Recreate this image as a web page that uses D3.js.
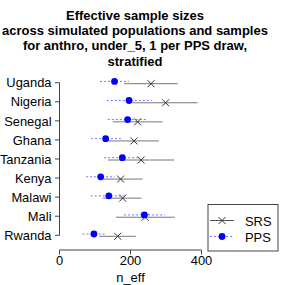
<!DOCTYPE html>
<html>
<head>
  <meta charset="UTF-8">
  <style>
    body { margin: 0; background: #fff; }
    svg { display: block; font-family: "Liberation Sans", Arial, sans-serif; }
  </style>
</head>
<body>
  <script src="https://d3js.org/d3.v7.min.js"></script>
  <script>
    // values
    var countries = ["Uganda", "Nigeria", "Senegal", "Ghana", "Tanzania", "Kenya", "Malawi", "Mali", "Rwanda"];
    var srsMean = [258, 299, 220, 210, 230, 172, 178, 241, 164];
    var srsLo   = [182, 205, 150, 137, 136, 123, 123, 159, 112];
    var srsHi   = [333, 389, 290, 280, 323, 234, 231, 325, 215];
    var ppsMean = [155, 196, 192, 130, 177, 116, 139, 239, 97];
    var ppsLo   = [114, 133, 136, 89, 126, 75, 88, 182, 65];
    var ppsHi   = [196, 260, 248, 173, 227, 156, 189, 297, 128];
    var xTicks = [0, 200, 400];
    var titleLines = ["Effective sample sizes",
      "across simulated populations and samples",
      "for anthro, under_5, 1 per PPS draw,",
      "stratified"];

    var W = 285, H = 285;
    var fs = "12.9px";
    var svg = d3.select("body").append("svg").attr("width", W).attr("height", H);

    var x = d3.scaleLinear().domain([0, 400]).range([59.5, 201.5]);
    var y = d3.scalePoint().domain(countries).range([82.7, 235.3]);

    // title
    svg.append("g").selectAll("text").data(titleLines).enter().append("text")
      .attr("x", 135).attr("y", function(d, i) { return 19.8 + i * 15.3; })
      .attr("text-anchor", "middle")
      .style("font-weight", "bold").style("font-size", "13px")
      .text(function(d) { return d; });

    // y axis (R style)
    var ya = svg.append("g");
    ya.append("line").attr("x1", 59.5).attr("x2", 59.5)
      .attr("y1", y(countries[0])).attr("y2", y(countries[countries.length - 1]))
      .attr("stroke", "#444");
    countries.forEach(function(c) {
      ya.append("line").attr("x1", 55).attr("x2", 59.5)
        .attr("y1", y(c)).attr("y2", y(c)).attr("stroke", "#444");
      ya.append("text").attr("x", 51.5).attr("y", y(c) + 4.7)
        .attr("text-anchor", "end").style("font-size", fs).text(c);
    });

    // x axis
    var xa = svg.append("g");
    xa.append("line").attr("x1", x(0)).attr("x2", x(400)).attr("y1", 250).attr("y2", 250).attr("stroke", "#444");
    xTicks.forEach(function(t) {
      xa.append("line").attr("x1", x(t)).attr("x2", x(t)).attr("y1", 250).attr("y2", 254.5).attr("stroke", "#444");
      xa.append("text").attr("x", x(t)).attr("y", 264.5).attr("text-anchor", "middle")
        .style("font-size", fs).text(t);
    });
    svg.append("text").attr("x", (x(0) + x(400)) / 2).attr("y", 281.5)
      .attr("text-anchor", "middle").style("font-size", fs).text("n_eff");

    // SRS intervals
    var srs = svg.append("g");
    countries.forEach(function(c, i) {
      var yy = y(c) + 1;
      srs.append("line").attr("x1", x(srsLo[i])).attr("x2", x(srsHi[i]))
        .attr("y1", yy).attr("y2", yy).attr("stroke", "#777").attr("stroke-width", 1);
    });
    // PPS intervals
    var pps = svg.append("g");
    countries.forEach(function(c, i) {
      var yy = y(c) - 1.3;
      pps.append("line").attr("x1", x(ppsLo[i])).attr("x2", x(ppsHi[i]))
        .attr("y1", yy).attr("y2", yy).attr("stroke", "rgba(60,60,255,0.7)")
        .attr("stroke-width", 1).attr("stroke-dasharray", "2,2");
    });
    // SRS crosses
    countries.forEach(function(c, i) {
      var cx = x(srsMean[i]), cy = y(c) + 1, s = 3.5;
      srs.append("path")
        .attr("d", "M" + (cx - s) + "," + (cy - s) + "L" + (cx + s) + "," + (cy + s) +
          "M" + (cx - s) + "," + (cy + s) + "L" + (cx + s) + "," + (cy - s))
        .attr("stroke", "#333").attr("stroke-width", 1).attr("fill", "none");
    });
    // PPS points
    pps.selectAll("circle").data(countries).enter().append("circle")
      .attr("cx", function(d, i) { return x(ppsMean[i]); })
      .attr("cy", function(d) { return y(d) - 1.3; })
      .attr("r", 3.4).attr("fill", "#0000ff");

    // legend
    var lg = svg.append("g");
    lg.append("rect").attr("x", 208).attr("y", 204.5).attr("width", 70).attr("height", 46.5)
      .attr("fill", "#fff").attr("stroke", "#444");
    lg.append("line").attr("x1", 210).attr("x2", 234).attr("y1", 220.5).attr("y2", 220.5).attr("stroke", "#555");
    lg.append("path").attr("d", "M218.5,217L225.5,224M218.5,224L225.5,217").attr("stroke", "#333").attr("fill", "none");
    lg.append("line").attr("x1", 210).attr("x2", 234).attr("y1", 236.5).attr("y2", 236.5)
      .attr("stroke", "rgba(60,60,255,0.7)").attr("stroke-dasharray", "2,2");
    lg.append("circle").attr("cx", 222).attr("cy", 236.5).attr("r", 3.4).attr("fill", "#0000ff");
    lg.append("text").attr("x", 245).attr("y", 225.5).style("font-size", fs).text("SRS");
    lg.append("text").attr("x", 245).attr("y", 241.5).style("font-size", fs).text("PPS");
  </script>
</body>
</html>
